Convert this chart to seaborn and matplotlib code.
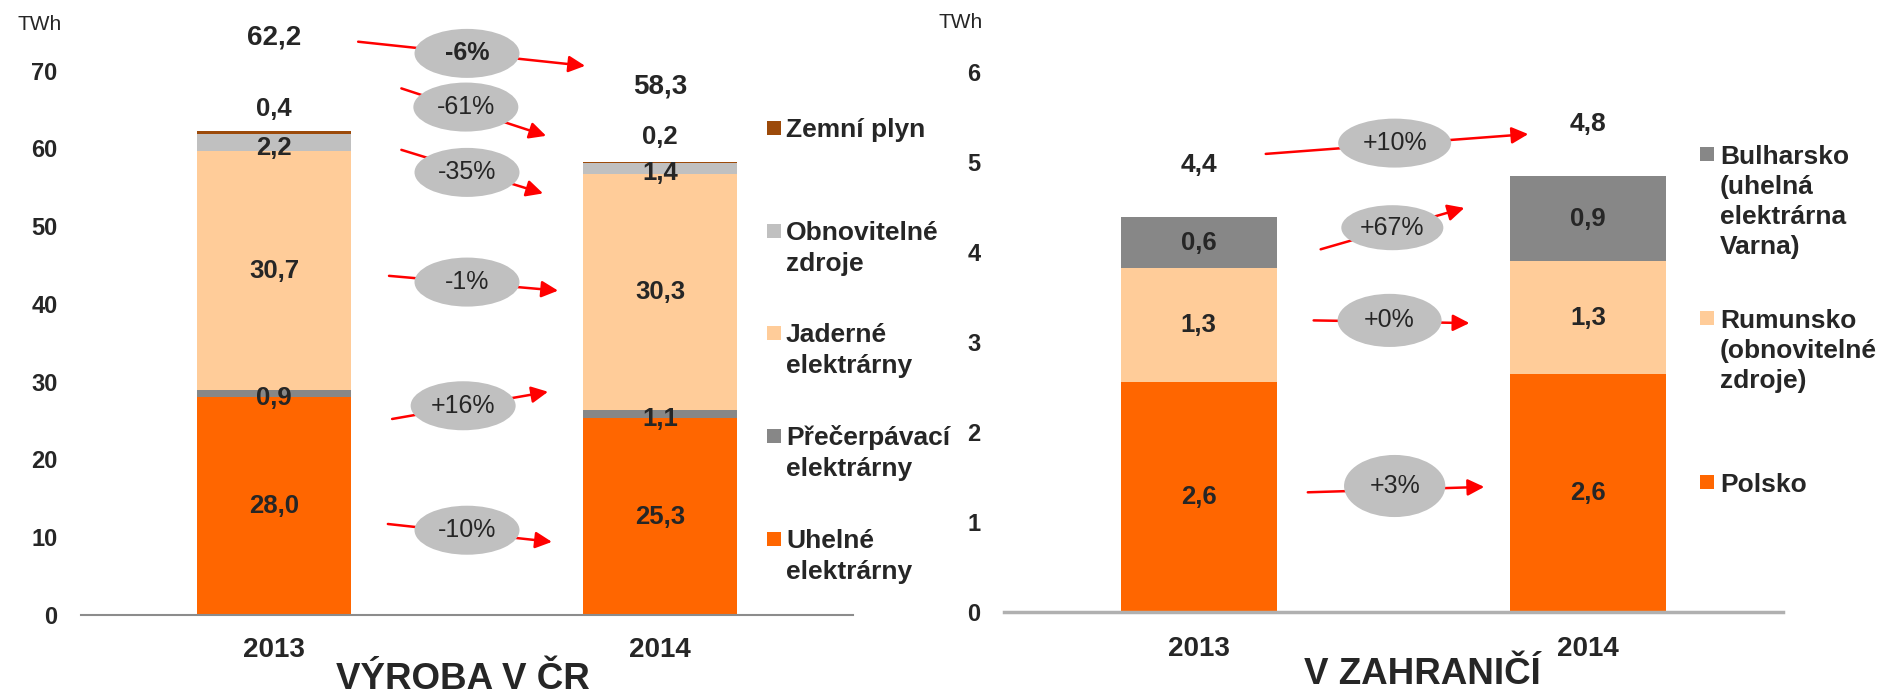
import numpy as np
import pandas as pd
import matplotlib.pyplot as plt
from matplotlib.patches import Ellipse, Rectangle
import seaborn as sns

# global settings
sns.set_style("white")
plt.rcParams['font.family'] = ['Liberation Sans', 'DejaVu Sans']

W, H = 1892, 698

# ---- data -------------------------------------------------------------
years = ['2013', '2014']

# Vyroba v CR (TWh), bottom -> top
cz_sources = ['Uhelné\nelektrárny', 'Přečerpávací\nelektrárny', 'Jaderné\nelektrárny',
              'Obnovitelné\nzdroje', 'Zemní plyn']
cz_coal = [28.0, 25.3]
cz_pumped = [0.9, 1.1]
cz_nuclear = [30.7, 30.3]
cz_renew = [2.2, 1.4]
cz_gas = [0.4, 0.2]
cz_change = ['-10%', '+16%', '-1%', '-35%', '-61%']
cz_total_change = '-6%'

# V zahranici (TWh), bottom -> top
abroad_sources = ['Polsko', 'Rumunsko\n(obnovitelné\nzdroje)',
                  'Bulharsko\n(uhelná\nelektrárna\nVarna)']
abroad_pl = [2.56, 2.64]
abroad_ro = [1.26, 1.26]
abroad_bg = [0.57, 0.94]
abroad_change = ['+3%', '+0%', '+67%']
abroad_total_change = '+10%'

ORANGE = '#FF6600'
GRAY = '#878787'
PEACH = '#FFCC99'
LIGHT = '#C0C0C0'
BROWN = '#9C4A0A'
cz_colors = [ORANGE, GRAY, PEACH, LIGHT, BROWN]
abroad_colors = [ORANGE, PEACH, GRAY]


def fx(px):
    return px / W


def fy(py):
    return 1 - py / H


def fmt(v):
    return f'{v:.1f}'.replace('.', ',')


def stacked_bars(ax, series, colors):
    """Stacked bars with seaborn: cumulative sums drawn top layer first."""
    cum = np.cumsum(np.array(series), axis=0)
    for i in reversed(range(len(series))):
        df = pd.DataFrame({'rok': years, 'twh': cum[i]})
        sns.barplot(data=df, x='rok', y='twh', color=colors[i], width=0.4,
                    saturation=1, linewidth=0, ax=ax)
    return cum


def style_axes(ax, ymax, step, ypad, xpad, spine_color, spine_lw):
    ax.set_ylim(0, ymax)
    ax.set_xlim(-0.5, 1.5)
    ax.set_yticks(np.arange(0, ymax + step / 2, step))
    ax.set_xlabel('')
    ax.set_ylabel('')
    for s in ['left', 'top', 'right']:
        ax.spines[s].set_visible(False)
    ax.spines['bottom'].set_color(spine_color)
    ax.spines['bottom'].set_linewidth(spine_lw)
    ax.tick_params(axis='y', length=0, pad=ypad, labelsize=17)
    ax.tick_params(axis='x', length=0, pad=xpad, labelsize=20)
    for lab in ax.get_xticklabels() + ax.get_yticklabels():
        lab.set_fontweight('bold')


def change_bubble(ax, text, ell, size, start, end, bold=False):
    ax.annotate('', xy=end, xytext=start, annotation_clip=False, zorder=3,
                arrowprops=dict(arrowstyle='-|>,head_length=0.4,head_width=0.2',
                                color='#FF0000', lw=1.8, mutation_scale=25,
                                shrinkA=0, shrinkB=0))
    ax.add_patch(Ellipse(ell, size[0], size[1], facecolor=LIGHT, edgecolor='none',
                         zorder=4, clip_on=False))
    ax.text(ell[0], ell[1], text, ha='center', va='center', fontsize=18,
            fontweight='bold' if bold else 'normal', zorder=5)


def legend_block(fig, labels, colors, x_marker, x_text, tops):
    for lab, col, y0 in zip(labels, colors, tops):
        fig.add_artist(Rectangle((fx(x_marker), fy(y0 + 7)), 14 / W, 14 / H,
                                 transform=fig.transFigure, facecolor=col,
                                 edgecolor='none'))
        for k, line in enumerate(lab.split('\n')):
            fig.text(fx(x_text), fy(y0 + 9.5 + 30.3 * k), line, ha='left',
                     va='baseline', fontsize=19, fontweight='bold')


fig = plt.figure(figsize=(W / 100, H / 100), dpi=100)

# ---- left: Vyroba v CR ----------------------------------------------------
ax1 = fig.add_axes([fx(81), fy(615), (853 - 81) / W, (615 - 70.5) / H])
cz_series = [cz_coal, cz_pumped, cz_nuclear, cz_renew, cz_gas]
cum1 = stacked_bars(ax1, cz_series, cz_colors)
style_axes(ax1, 70, 10, 17, 16, '#8C8C8C', 1.5)

for j in range(len(years)):
    for i, s in enumerate(cz_series[:-1]):
        bottom = cum1[i][j] - s[j]
        y = bottom + s[j] / 2 - (0.6 if s[j] < 3 else 0)
        ax1.text(j, y, fmt(s[j]), ha='center', va='center', fontsize=18.5,
                 fontweight='bold', zorder=6)
gas_offset = [2.8, 3.2]
total_offset = [12.1, 9.7]
for j in range(len(years)):
    top = cum1[-1][j]
    ax1.text(j, top + gas_offset[j], fmt(cz_gas[j]), ha='center', va='center',
             fontsize=18.5, fontweight='bold')
    ax1.text(j, top + total_offset[j], fmt(top), ha='center', va='center',
             fontsize=20, fontweight='bold')

left_bubbles = [  # ellipse centre, arrow start, arrow end
    ((0.50, 10.9), (0.295, 11.7), (0.72, 9.4)),
    ((0.49, 26.9), (0.306, 25.2), (0.71, 28.7)),
    ((0.50, 42.8), (0.298, 43.6), (0.736, 41.7)),
    ((0.50, 56.9), (0.33, 59.8), (0.697, 54.2)),
    ((0.497, 65.3), (0.33, 67.7), (0.705, 61.6)),
]
for txt, (ell, st, en) in zip(cz_change, left_bubbles):
    change_bubble(ax1, txt, ell, (0.272, 6.3), st, en)
change_bubble(ax1, cz_total_change, (0.5, 72.2), (0.272, 6.3),
              (0.218, 73.7), (0.806, 70.6), bold=True)

legend_block(fig, cz_sources[::-1], cz_colors[::-1], 767, 786,
             [128, 231, 333, 436, 539])

fig.text(fx(40), fy(25), 'TWh', ha='center', va='center', fontsize=15)
fig.text(fx(463), fy(697), 'VÝROBA V ČR', ha='center', va='bottom',
         fontsize=26.5, fontweight='bold')

# ---- right: V zahranici ---------------------------------------------------
ax2 = fig.add_axes([fx(1004), fy(612), (1783 - 1004) / W, (612 - 72) / H])
ab_series = [abroad_pl, abroad_ro, abroad_bg]
cum2 = stacked_bars(ax2, ab_series, abroad_colors)
style_axes(ax2, 6, 1, 17, 17, '#B0B0B0', 2.5)

for j in range(len(years)):
    for i, s in enumerate(ab_series):
        bottom = cum2[i][j] - s[j]
        ax2.text(j, bottom + s[j] / 2, fmt(s[j]), ha='center', va='center',
                 fontsize=18.5, fontweight='bold', zorder=6)
    ax2.text(j, cum2[-1][j] + 0.58, fmt(cum2[-1][j]), ha='center', va='center',
             fontsize=19, fontweight='bold')

right_bubbles = [  # ellipse centre, size, arrow start, arrow end
    ((0.503, 1.40), (0.26, 0.69), (0.28, 1.33), (0.733, 1.39)),
    ((0.49, 3.24), (0.267, 0.59), (0.295, 3.24), (0.695, 3.21)),
    ((0.497, 4.27), (0.262, 0.50), (0.313, 4.03), (0.682, 4.49)),
]
for txt, (ell, size, st, en) in zip(abroad_change, right_bubbles):
    change_bubble(ax2, txt, ell, size, st, en)
change_bubble(ax2, abroad_total_change, (0.503, 5.21), (0.29, 0.544),
              (0.172, 5.09), (0.846, 5.31))

legend_block(fig, abroad_sources[::-1], abroad_colors[::-1], 1700, 1720,
             [154, 318, 482])

fig.text(fx(961), fy(22), 'TWh', ha='center', va='center', fontsize=15)
fig.text(fx(1422), fy(692), 'V ZAHRANIČÍ', ha='center', va='bottom',
         fontsize=26.5, fontweight='bold')

fig.savefig('out.png', dpi=100)
